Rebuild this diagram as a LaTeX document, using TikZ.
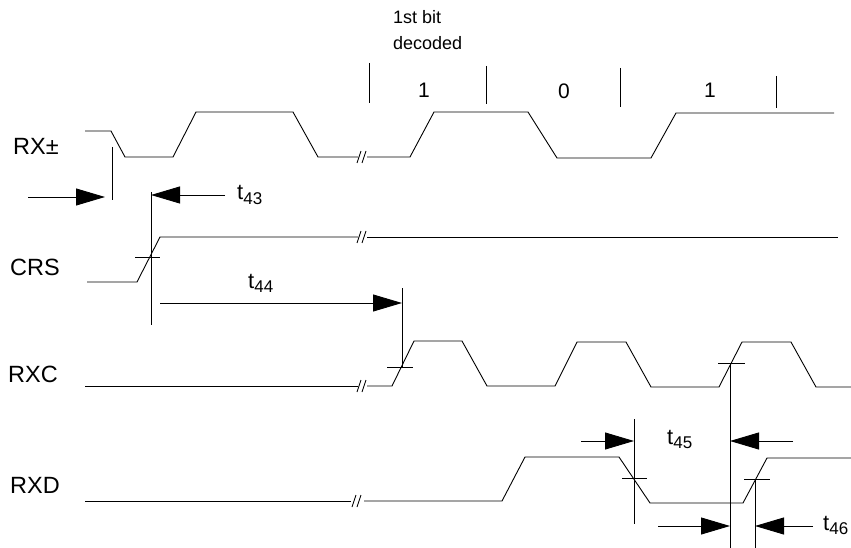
\documentclass[tikz,border=0pt]{standalone}
\usepackage{fontspec}
\setmainfont{Liberation Sans}
\usetikzlibrary{arrows.meta}
\newcommand\tlab[1]{t\raisebox{-4.5pt}{\fontsize{17}{20}\selectfont #1}}
\begin{document}
\begin{tikzpicture}[x=1pt,y=-1pt,
  wave/.style={line width=0.9pt,line join=miter},
  refl/.style={line width=0.9pt},
  dimarr/.style={line width=0.9pt,-{Triangle[length=29pt,width=17pt]}},
  sig/.style={inner sep=0,anchor=base west,font=\fontsize{23.5}{27}\selectfont},
  bitl/.style={inner sep=0,anchor=base,font=\fontsize{21}{25}\selectfont},
  note/.style={inner sep=0,anchor=base west,font=\fontsize{18}{22}\selectfont},
  tl/.style={inner sep=0,anchor=base west,font=\fontsize{22}{26}\selectfont},
  brk/.pic={\draw[line width=0.9pt] (-5,6) -- (-1,-6); \draw[line width=0.9pt] (0,6) -- (4,-6);}]
\useasboundingbox (0,0) rectangle (851,548);
\clip (0,0) rectangle (851,548);

% signal names
\node[sig] (lrx) at (13,155) {RX±};
\node[sig] (lcrs) at (10,275) {CRS};
\node[sig] (lrxc) at (8,382) {RXC};
\node[sig] (lrxd) at (10,493) {RXD};

% top notes
\node[note] (n1) at (393,24) {1st bit};
\node[note] (n2) at (393,50) {decoded};
\node[bitl] (b1) at (424,98) {1};
\node[bitl] (b0) at (564,99) {0};
\node[bitl] (b2) at (710,98) {1};
\draw[refl] (369,63) -- (369,103);
\draw[refl] (486,66) -- (486,104);
\draw[refl] (620,68) -- (620,107);
\draw[refl] (776,76) -- (776,108);

% RX+-
\draw[wave] (85,131) -- (111,131) -- (125,157) -- (173,157) -- (196,112) -- (293,112) -- (318,157) -- (358,157);
\draw[wave] (367,157) -- (410,157) -- (434,112) -- (528,112) -- (557,158) -- (651,158) -- (676,113) -- (834,113);
\pic at (362,157) {brk};

% CRS
\draw[wave] (87,282) -- (137,282) -- (160,237) -- (358,237);
\draw[wave] (367,237) -- (838,237);
\pic at (362,237) {brk};
\draw[refl] (135,257) -- (160,257);

% RXC
\draw[wave] (85,386) -- (358,386);
\draw[wave] (367,386) -- (392,386) -- (414,341) -- (462,341) -- (487,386) -- (555,386) -- (577,342) -- (626,342) -- (651,387) -- (719,387) -- (742,342) -- (791,342) -- (816,387) -- (851,387);
\pic at (362,386) {brk};
\draw[refl] (387,367) -- (413,367);
\draw[refl] (718,363) -- (745,363);

% RXD
\draw[wave] (85,501) -- (351,501);
\draw[wave] (364,501) -- (502,501) -- (525,457) -- (619,457) -- (650,503) -- (743,503) -- (767,458) -- (851,458);
\pic at (357,501) {brk};
\draw[refl] (622,478) -- (647,478);
\draw[refl] (744,479) -- (770,479);

% reference verticals
\coordinate (v1t) at (112,147); \coordinate (v1b) at (112,200);
\coordinate (v2t) at (151,192); \coordinate (v2b) at (151,325);
\coordinate (v3t) at (402,288); \coordinate (v3b) at (402,367);
\coordinate (v4t) at (730,363); \coordinate (v4b) at (730,548);
\coordinate (v5t) at (634,419); \coordinate (v5b) at (634,524);
\coordinate (v6t) at (755,479); \coordinate (v6b) at (755,548);
\foreach \v in {1,...,6} \draw[refl] (v\v t) -- (v\v b);

% timing arrows
\coordinate (a1s) at (28,197); \coordinate (a1e) at (105,197);
\draw[dimarr] (a1s) -- (a1e);
\coordinate (a2s) at (225,195);
\draw[dimarr] (a2s) -- (a2s -| v2t);
\node[tl] (t43) at (237,200) {\tlab{43}};
\coordinate (a3s) at (160,303);
\draw[dimarr] (a3s) -- (a3s -| v3t);
\node[tl] (t44) at (248,288) {\tlab{44}};
\coordinate (a4s) at (581,441); \coordinate (a5s) at (793,441);
\draw[dimarr] (a4s) -- (a4s -| v5t);
\draw[dimarr] (a5s) -- (a5s -| v4t);
\node[tl] (t45) at (667,444) {\tlab{45}};
\coordinate (a6s) at (658,526); \coordinate (a7s) at (813,526);
\draw[dimarr] (a6s) -- (a6s -| v4t);
\draw[dimarr] (a7s) -- (a7s -| v6t);
\node[tl] (t46) at (823,530) {\tlab{46}};
\end{tikzpicture}
\end{document}
